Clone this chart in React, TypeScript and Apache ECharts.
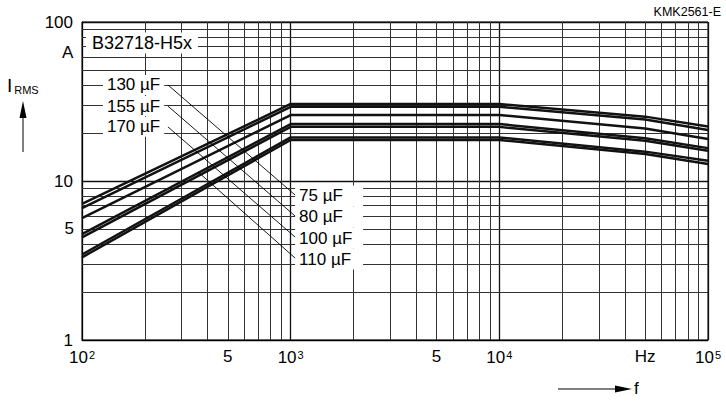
import React, { useEffect, useRef } from "react";
import * as echarts from "echarts";

// ---------- data ----------
const FREQ_HZ = [100, 1000, 10000, 50000, 100000];
const CAP_NAMES = ["170 µF", "155 µF", "130 µF", "110 µF", "100 µF", "80 µF", "75 µF"];
const I_170 = [7.17, 30.5, 30.5, 25.4, 22.0];
const I_155 = [6.76, 29.3, 29.3, 24.4, 20.9];
const I_130 = [5.85, 26.0, 26.0, 21.4, 18.4];
const I_110 = [4.64, 22.8, 22.8, 18.6, 16.1];
const I_100 = [4.42, 21.9, 21.9, 17.9, 15.5];
const I_80 = [3.45, 18.8, 18.8, 15.3, 13.4];
const I_75 = [3.31, 18.1, 18.1, 14.8, 12.8];
const CURVES = [I_170, I_155, I_130, I_110, I_100, I_80, I_75];

const X_MINOR = [200, 300, 400, 500, 600, 700, 800, 900, 2000, 3000, 4000, 5000, 6000, 7000, 8000, 9000, 20000, 30000, 40000, 50000, 60000, 70000, 80000, 90000];
const Y_MINOR = [2, 3, 4, 5, 6, 7, 8, 9, 20, 30, 40, 50, 60, 70, 80, 90];
const X_EXTRA_TICKS = [500, 5000, 50000];
const X_EXTRA_TEXT = ["5", "5", "Hz"];
const Y_EXTRA_TICKS = [5];
const Y_EXTRA_TEXT = ["5"];

// annotation labels (anchor = left edge of label, in data units: [Hz, A])
const LEFT_LABELS = ["130 µF", "155 µF", "170 µF"];
const LEFT_LABEL_F = 126;
const LEFT_LABEL_I = [40.2, 29.6, 21.9];
const RIGHT_LABELS = ["75 µF", "80 µF", "100 µF", "110 µF"];
const RIGHT_LABEL_F = 1050;
const RIGHT_LABEL_I = [8.05, 5.94, 4.38, 3.23];
const TYPE_LABEL = "B32718-H5x";
const TYPE_LABEL_POS = [104.5, 73.8];

// leader lines [f1, i1, f2, i2]
const LEADERS = [
  [258, 40.2, 1063, 8.05],
  [258, 29.6, 1063, 5.94],
  [258, 21.9, 1063, 4.38],
  [360, 11.4, 1063, 3.23],
];

const FONT = "'Liberation Sans', Arial, Helvetica, sans-serif";

export default function App() {
  const ref = useRef<HTMLDivElement>(null);

  useEffect(() => {
    document.body.style.margin = "0";
    const chart = echarts.init(ref.current!, undefined, { renderer: "svg" });

    const curveSeries = CURVES.map((vals, i) => ({
      name: CAP_NAMES[i],
      type: "line",
      data: FREQ_HZ.map((f, j) => [f, vals[j]]),
      showSymbol: false,
      silent: true,
      z: 3,
      lineStyle: { color: "#121212", width: 2.5 },
    }));

    const gridLines: any[] = [];
    X_MINOR.forEach((v) => {
      const k = X_EXTRA_TICKS.indexOf(v);
      gridLines.push({
        xAxis: v,
        label:
          k >= 0
            ? { show: true, position: "start", formatter: X_EXTRA_TEXT[k], distance: 8, color: "#000", fontSize: 17, fontFamily: FONT }
            : { show: false },
      });
    });
    Y_MINOR.forEach((v) => {
      const k = Y_EXTRA_TICKS.indexOf(v);
      gridLines.push({
        yAxis: v,
        label:
          k >= 0
            ? { show: true, position: "start", formatter: Y_EXTRA_TEXT[k], distance: 8, color: "#000", fontSize: 17, fontFamily: FONT }
            : { show: false },
      });
    });

    const labelPoints: any[] = [];
    LEFT_LABELS.forEach((t, i) => {
      labelPoints.push({
        coord: [LEFT_LABEL_F, LEFT_LABEL_I[i]],
        label: { formatter: t, padding: [2, 4, 1, 4] },
      });
    });
    RIGHT_LABELS.forEach((t, i) => {
      labelPoints.push({
        coord: [RIGHT_LABEL_F, RIGHT_LABEL_I[i]],
        label: { formatter: t, padding: [2, 4, 2, 4], width: 60 },
      });
    });
    labelPoints.push({
      coord: TYPE_LABEL_POS,
      label: { formatter: TYPE_LABEL, padding: [2, 6, 1, 6], fontSize: 18 },
    });

    const option: any = {
      animation: false,
      textStyle: { fontFamily: FONT },
      grid: { left: 82, right: 18, top: 22, bottom: 62, show: true, borderColor: "#000", borderWidth: 1, containLabel: false },
      xAxis: {
        type: "log",
        logBase: 10,
        min: 100,
        max: 100000,
        axisLine: { show: true, lineStyle: { color: "#000", width: 1 } },
        axisTick: { show: false },
        splitLine: { show: true, lineStyle: { color: "#111", width: 1.3 } },
        axisLabel: {
          margin: 9,
          color: "#000",
          formatter: (v: number) => `{b|10}{s|${Math.round(Math.log10(v))}}`,
          rich: {
            b: { fontSize: 17, fontFamily: FONT, color: "#000" },
            s: { fontSize: 11, fontFamily: FONT, color: "#000", verticalAlign: "top", padding: [0, 0, 6, 1] },
          },
        },
      },
      yAxis: {
        type: "log",
        logBase: 10,
        min: 1,
        max: 100,
        axisLine: { show: true, lineStyle: { color: "#000", width: 1 } },
        axisTick: { show: false },
        splitLine: { show: true, lineStyle: { color: "#111", width: 1.3 } },
        axisLabel: { margin: 9, color: "#000", fontSize: 17, fontFamily: FONT },
      },
      series: [
        {
          type: "line",
          data: [],
          silent: true,
          markLine: {
            silent: true,
            z: 1,
            symbol: ["none", "none"],
            lineStyle: { color: "#333", width: 1, type: "solid" },
            emphasis: { disabled: true },
            data: gridLines,
          },
        },
        ...curveSeries,
        {
          type: "line",
          data: [],
          silent: true,
          markLine: {
            silent: true,
            z: 4,
            symbol: ["none", "none"],
            lineStyle: { color: "#000", width: 0.9, type: "solid" },
            label: { show: false },
            emphasis: { disabled: true },
            data: LEADERS.map((l) => [{ coord: [l[0], l[1]] }, { coord: [l[2], l[3]] }]),
          },
          markPoint: {
            silent: true,
            z: 6,
            symbol: "circle",
            symbolSize: 0,
            label: {
              show: true,
              position: "right",
              distance: 0,
              color: "#000",
              fontSize: 17,
              fontFamily: FONT,
              backgroundColor: "#fff",
            },
            data: labelPoints,
          },
        },
      ],
      graphic: [
        {
          type: "text",
          left: 7,
          top: 76,
          style: {
            text: "{i|I}{s|RMS}",
            rich: {
              i: { fontSize: 19, fontFamily: FONT, fill: "#000" },
              s: { fontSize: 11, fontFamily: FONT, fill: "#000", verticalAlign: "bottom", padding: [0, 0, 0, 2] },
            },
          },
        },
        { type: "line", shape: { x1: 23, y1: 116, x2: 23, y2: 152 }, style: { stroke: "#000", lineWidth: 1 } },
        { type: "polygon", shape: { points: [[19.5, 118], [26.5, 118], [23, 101]] }, style: { fill: "#000" } },
        {
          type: "text",
          left: 62,
          top: 44,
          style: { text: "A", fontSize: 17, fontFamily: FONT, fill: "#000" },
        },
        { type: "line", shape: { x1: 558, y1: 389, x2: 618, y2: 389 }, style: { stroke: "#000", lineWidth: 1 } },
        { type: "polygon", shape: { points: [[615, 385.5], [615, 392.5], [632, 389]] }, style: { fill: "#000" } },
        {
          type: "text",
          left: 634,
          top: 380,
          style: { text: "f", fontSize: 17, fontFamily: FONT, fill: "#000" },
        },
        {
          type: "text",
          right: 5,
          top: 5,
          style: { text: "KMK2561-E", fontSize: 12.5, fontFamily: FONT, fill: "#000" },
        },
      ],
    };

    chart.setOption(option);
    return () => chart.dispose();
  }, []);

  return <div ref={ref} style={{ width: 726, height: 402 }} />;
}
